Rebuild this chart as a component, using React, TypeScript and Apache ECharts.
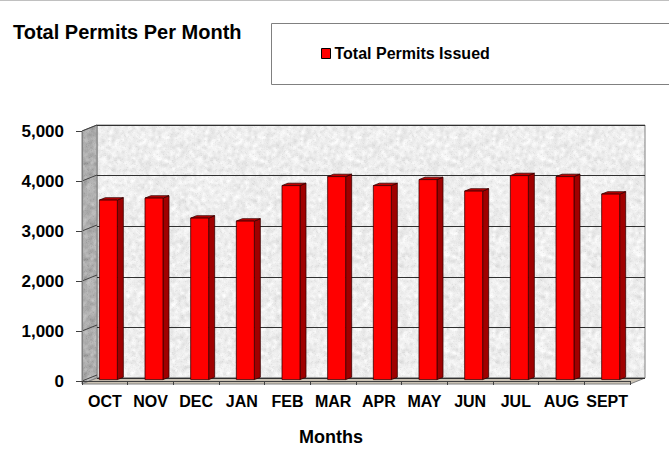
import React, { useEffect, useRef } from "react";
import * as echarts from "echarts";

const months = ["OCT", "NOV", "DEC", "JAN", "FEB", "MAR", "APR", "MAY", "JUN", "JUL", "AUG", "SEPT"];
const permits = [3590, 3630, 3230, 3170, 3880, 4060, 3880, 4000, 3770, 4080, 4060, 3710];
const yTicks = [0, 1000, 2000, 3000, 4000, 5000];
const seriesName = "Total Permits Issued";

const FONT = "'Liberation Sans', Arial, sans-serif";
const FRONT = { left: 82, top: 131, width: 548, height: 253 };
const DX = 15;
const DY = -6;

// Seamless granite-like texture (style only, not data)
function makeTexture(base: number, amp: number, speck: number, seed: number): string {
  const N = 96;
  let s = seed >>> 0;
  const rnd = () => {
    s = (Math.imul(s, 1664525) + 1013904223) >>> 0;
    return s / 4294967296;
  };
  let a = new Float32Array(N * N);
  for (let i = 0; i < N * N; i++) a[i] = rnd() - 0.5;
  for (let pass = 0; pass < 2; pass++) {
    const b = new Float32Array(N * N);
    for (let y = 0; y < N; y++) {
      for (let x = 0; x < N; x++) {
        let sum = 0;
        for (let oy = -1; oy <= 1; oy++) {
          for (let ox = -1; ox <= 1; ox++) {
            sum += a[((y + oy + N) % N) * N + ((x + ox + N) % N)];
          }
        }
        b[y * N + x] = sum / 9;
      }
    }
    a = b;
  }
  const c = document.createElement("canvas");
  c.width = N;
  c.height = N;
  const ctx = c.getContext("2d")!;
  const img = ctx.createImageData(N, N);
  for (let i = 0; i < N * N; i++) {
    let v = base + a[i] * amp * 5 + (rnd() - 0.5) * amp * 0.4;
    if (rnd() < speck) v -= amp * 0.6;
    v = Math.max(0, Math.min(255, v));
    img.data[i * 4] = v;
    img.data[i * 4 + 1] = v;
    img.data[i * 4 + 2] = v;
    img.data[i * 4 + 3] = 255;
  }
  ctx.putImageData(img, 0, 0);
  return c.toDataURL();
}

export default function App() {
  const ref = useRef<HTMLDivElement>(null);

  useEffect(() => {
    if (!ref.current) return;
    const chart = echarts.init(ref.current, null, { renderer: "svg" });

    const backTex = makeTexture(238, 16, 0.04, 12345);
    const sideTex = makeTexture(174, 20, 0.04, 777);

    const L = FRONT.left;
    const T = FRONT.top;
    const R = FRONT.left + FRONT.width;
    const B = FRONT.top + FRONT.height;

    chart.setOption({
      animation: false,
      backgroundColor: "#ffffff",
      title: {
        text: "Total Permits Per Month",
        left: 13,
        top: 22,
        padding: 0,
        textStyle: { fontFamily: FONT, fontWeight: "bold", fontSize: 20, color: "#000" },
      },
      legend: {
        data: [seriesName],
        left: 321,
        top: 45.5,
        padding: 0,
        icon: "rect",
        itemWidth: 9,
        itemHeight: 10,
        itemStyle: { borderColor: "#000", borderWidth: 1 },
        textStyle: { fontFamily: FONT, fontWeight: "bold", fontSize: 16, color: "#000", padding: [0, 0, 0, -1] },
      },
      graphic: [
        { type: "line", z: 0, shape: { x1: 0, y1: 0.5, x2: 669, y2: 0.5 }, style: { stroke: "#c0c0c0", lineWidth: 1 } },
        {
          type: "rect",
          z: 0,
          shape: { x: 271.5, y: 23.5, width: 420, height: 61 },
          style: { fill: "#ffffff", stroke: "#808080", lineWidth: 1 },
        },
        {
          type: "rect",
          z: 0,
          shape: { x: L + DX, y: T + DY, width: FRONT.width, height: FRONT.height },
          style: {
            fill: { image: backTex, repeat: "repeat", imageWidth: 96, imageHeight: 96 },
            stroke: "#808080",
            lineWidth: 1,
          },
        },
        {
          type: "polygon",
          z: 0,
          shape: { points: [[L, T], [L + DX, T + DY], [L + DX, B + DY], [L, B]] },
          style: {
            fill: { image: sideTex, repeat: "repeat", imageWidth: 96, imageHeight: 96 },
            stroke: "#808080",
            lineWidth: 1,
          },
        },
        {
          type: "polygon",
          z: 0,
          shape: { points: [[L, B], [L + DX, B + DY], [R + DX, B + DY], [R, B]] },
          style: { fill: "#c9c1b3", stroke: "#808080", lineWidth: 1 },
        },
      ],
      grid: [
        { left: FRONT.left, top: FRONT.top, width: FRONT.width, height: FRONT.height, containLabel: false },
        { left: FRONT.left + DX, top: FRONT.top + DY, width: FRONT.width, height: FRONT.height, containLabel: false },
      ],
      xAxis: [
        {
          type: "category",
          gridIndex: 0,
          data: months,
          z: 1,
          boundaryGap: true,
          axisLine: { show: true, lineStyle: { color: "#404040", width: 1 } },
          axisTick: { show: true, length: 4, interval: 0, lineStyle: { color: "#404040" } },
          axisLabel: {
            interval: 0,
            margin: 12,
            fontFamily: FONT,
            fontWeight: "bold",
            fontSize: 16,
            color: "#000",
          },
          name: "Months",
          nameLocation: "middle",
          nameGap: 47,
          nameTextStyle: {
            fontFamily: FONT,
            fontWeight: "bold",
            fontSize: 18,
            color: "#000",
            padding: [0, 50, 0, 0],
          },
        },
        {
          type: "category",
          gridIndex: 1,
          data: months,
          show: false,
        },
      ],
      yAxis: [
        {
          type: "value",
          gridIndex: 0,
          min: 0,
          max: 5000,
          interval: 1000,
          z: 1,
          axisLine: { show: true, lineStyle: { color: "#808080" } },
          axisTick: { show: true, length: 6, lineStyle: { color: "#404040" } },
          splitLine: { show: false },
          axisLabel: {
            margin: 18,
            fontFamily: FONT,
            fontWeight: "bold",
            fontSize: 17,
            color: "#000",
            formatter: (v: number) => v.toLocaleString("en-US"),
          },
        },
        {
          type: "value",
          gridIndex: 1,
          min: 0,
          max: 5000,
          interval: 1000,
          z: 1,
          axisLine: { show: false },
          axisTick: { show: false },
          axisLabel: { show: false },
          splitLine: { show: true, lineStyle: { color: "#303030", width: 1 } },
        },
      ],
      series: [
        {
          name: "sideGrid",
          type: "custom",
          xAxisIndex: 0,
          yAxisIndex: 0,
          z: 1,
          silent: true,
          data: yTicks.map((v) => [0, v]),
          renderItem: (params: any, api: any) => {
            const p = api.coord([0, api.value(1)]);
            const x = params.coordSys.x;
            return {
              type: "line",
              shape: { x1: x, y1: p[1], x2: x + DX, y2: p[1] + DY },
              style: { stroke: "#404040", lineWidth: 1 },
            };
          },
        },
        {
          name: seriesName,
          type: "custom",
          xAxisIndex: 0,
          yAxisIndex: 0,
          z: 5,
          itemStyle: { color: "#ff0000" },
          encode: { x: 0, y: 1 },
          data: months.map((m, i) => [i, permits[i]]),
          renderItem: (params: any, api: any) => {
            const i = api.value(0);
            const v = api.value(1);
            const base = api.coord([i, 0]);
            const top = api.coord([i, v]);
            const band = api.size([1, 0])[0];
            const w = band * 0.394;
            const x0 = base[0] - w / 2 + 3.5;
            const x1 = x0 + w;
            const yb = base[1] - 1.4;
            const yt = top[1] - 1.4;
            const dx = 6;
            const dy = -2.4;
            const stroke = "#3a0000";
            return {
              type: "group",
              children: [
                {
                  type: "polygon",
                  shape: { points: [[x1, yt], [x1 + dx, yt + dy], [x1 + dx, yb + dy], [x1, yb]] },
                  style: { fill: "#a00000", stroke, lineWidth: 0.8 },
                },
                {
                  type: "polygon",
                  shape: { points: [[x0, yt], [x0 + dx, yt + dy], [x1 + dx, yt + dy], [x1, yt]] },
                  style: { fill: "#c00000", stroke, lineWidth: 0.8 },
                },
                {
                  type: "rect",
                  shape: { x: x0, y: yt, width: w, height: yb - yt },
                  style: { fill: "#ff0000", stroke, lineWidth: 0.8 },
                },
              ],
            };
          },
        },
      ],
    });

    return () => {
      chart.dispose();
    };
  }, []);

  return (
    <div
      ref={ref}
      style={{ position: "absolute", left: 0, top: 0, width: 669, height: 451 }}
    />
  );
}
